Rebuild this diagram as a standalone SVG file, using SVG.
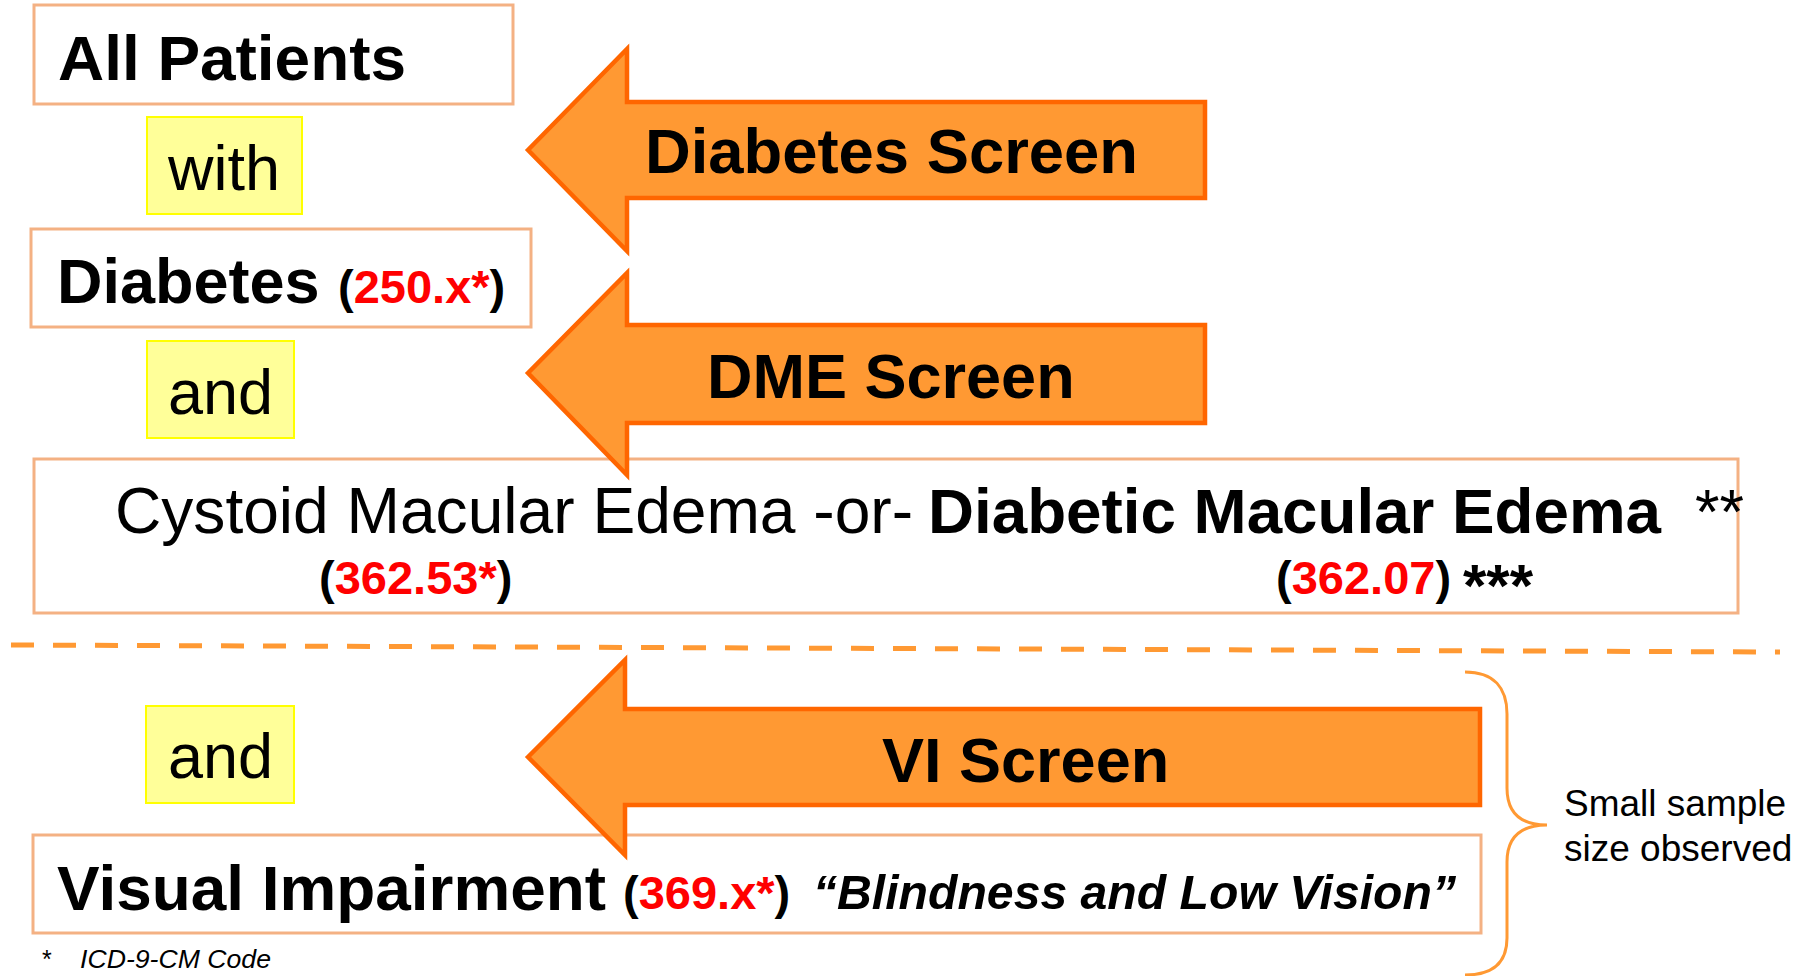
<svg xmlns="http://www.w3.org/2000/svg" width="1808" height="976" viewBox="0 0 1808 976">
<style>
.box{fill:#FFFFFF;stroke:#F4B183;stroke-width:3}
.ybox{fill:#FFFF99;stroke:#FFFF00;stroke-width:2}
.arrow{fill:#FF9933;stroke:#FF6600;stroke-width:4.5;stroke-linejoin:miter}
.t{font-family:"Liberation Sans",Arial,sans-serif;fill:#000000}
.b{font-weight:bold}
.red{fill:#FF0000}
.dash{fill:none;stroke:#FF9933;stroke-width:5;stroke-dasharray:23 19}
.brace{fill:none;stroke:#FF9933;stroke-width:3}
</style>
<rect width="1808" height="976" fill="#FFFFFF"/>
<g id="all-patients">
<rect class="box" x="34" y="5" width="479" height="99"/>
<text class="t b" x="58" y="80" font-size="63" textLength="348" lengthAdjust="spacingAndGlyphs">All Patients</text>
</g>
<g id="with">
<rect class="ybox" x="147" y="117" width="155" height="97"/>
<text class="t" x="168" y="190" font-size="63">with</text>
</g>
<g id="diabetes">
<rect class="box" x="31" y="229" width="500" height="98"/>
<text class="t b" x="57" y="303" font-size="63">Diabetes</text>
<text class="t b" x="338" y="303" font-size="47">(<tspan class="red">250.x*</tspan>)</text>
</g>
<g id="and-1">
<rect class="ybox" x="147" y="341" width="147" height="97"/>
<text class="t" x="168" y="414" font-size="63">and</text>
</g>
<g id="edema">
<rect class="box" x="34" y="459" width="1704" height="154"/>
<text class="t" x="115" y="533" font-size="64" textLength="798" lengthAdjust="spacingAndGlyphs">Cystoid Macular Edema -or-</text>
<text class="t b" x="928" y="533" font-size="63" textLength="733" lengthAdjust="spacingAndGlyphs">Diabetic Macular Edema</text>
<text class="t" x="1695" y="533" font-size="63">**</text>
<text class="t b" x="319" y="594" font-size="47">(<tspan class="red">362.53*</tspan>)</text>
<text class="t b" x="1276" y="594" font-size="47">(<tspan class="red">362.07</tspan>)</text>
<text class="t b" x="1463" y="606" font-size="60">***</text>
</g>
<g id="and-2">
<rect class="ybox" x="146" y="706" width="148" height="97"/>
<text class="t" x="168" y="778" font-size="63">and</text>
</g>
<g id="visual-impairment">
<rect class="box" x="33" y="835" width="1448" height="98"/>
<text class="t b" x="57" y="910" font-size="63" textLength="549" lengthAdjust="spacingAndGlyphs">Visual Impairment</text>
<text class="t b" x="623" y="909" font-size="47">(<tspan class="red">369.x*</tspan>)</text>
<text class="t b" x="813" y="909" font-size="48" font-style="italic" textLength="643" lengthAdjust="spacingAndGlyphs">“Blindness and Low Vision”</text>
</g>
<g id="diabetes-screen">
<polygon class="arrow" points="528,150 627,49 627,102 1205,102 1205,198 627,198 627,251"/>
<text class="t b" x="645" y="173" font-size="63" textLength="493" lengthAdjust="spacingAndGlyphs">Diabetes Screen</text>
</g>
<g id="dme-screen">
<polygon class="arrow" points="528,373 627,273 627,325 1205,325 1205,423 627,423 627,475"/>
<text class="t b" x="707" y="398" font-size="63">DME Screen</text>
</g>
<g id="vi-screen">
<polygon class="arrow" points="528,757 625,660 625,709 1480,709 1480,805 625,805 625,855"/>
<text class="t b" x="882" y="782" font-size="63">VI Screen</text>
</g>
<g id="connectors">
<line class="dash" x1="11" y1="645" x2="1780" y2="652"/>
<path class="brace" d="M1465,672 C1494,672 1507,688 1507,714 L1507,788 C1507,812 1520,825 1547,825 C1520,825 1507,838 1507,862 L1507,938 C1507,962 1494,975 1465,975"/>
</g>
<g id="note">
<text class="t" x="1564" y="816" font-size="37">Small sample</text>
<text class="t" x="1564" y="861" font-size="37">size observed</text>
</g>
<g id="footnote">
<text class="t" x="42" y="968" font-size="25">*</text>
<text class="t" x="80" y="968" font-size="25" font-style="italic" textLength="191" lengthAdjust="spacingAndGlyphs">ICD-9-CM Code</text>
</g>
</svg>
